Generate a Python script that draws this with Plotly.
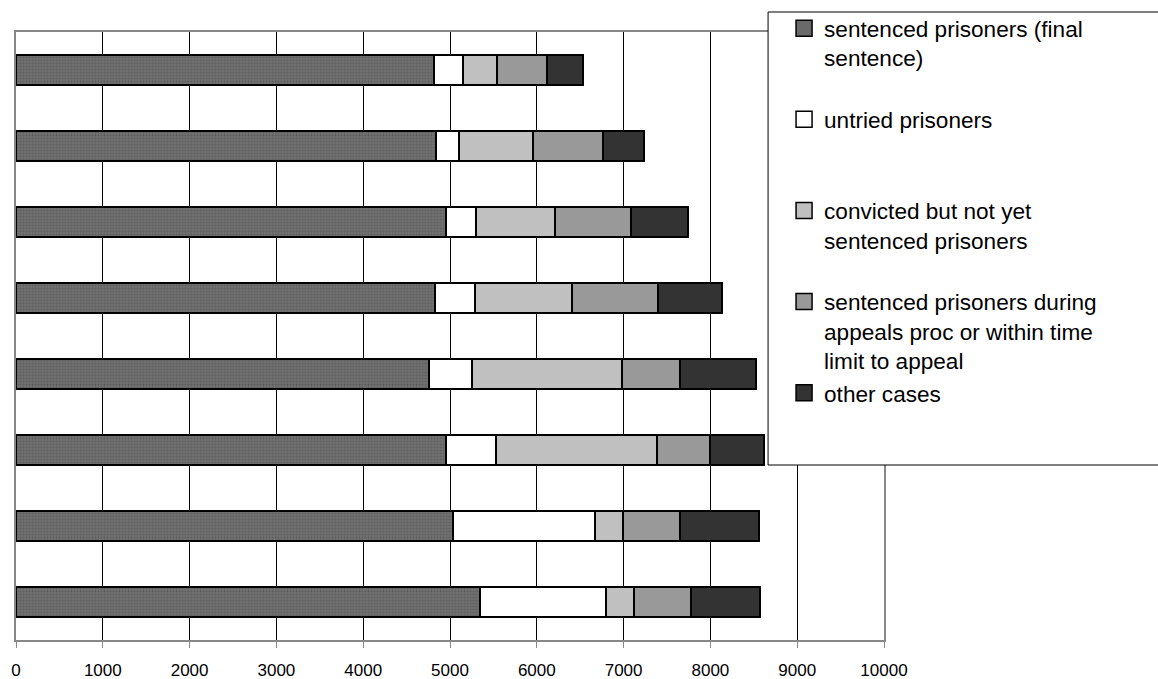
import plotly.graph_objects as go

# Data (rows listed top to bottom as they appear in the chart)
rows = ["r1", "r2", "r3", "r4", "r5", "r6", "r7", "r8"]
sentenced_final = [4810, 4840, 4955, 4830, 4760, 4955, 5035, 5340]
untried = [335, 260, 340, 455, 490, 575, 1640, 1460]
convicted_not_sentenced = [395, 860, 920, 1115, 1735, 1855, 320, 325]
during_appeals = [575, 805, 865, 1000, 670, 610, 650, 650]
other_cases = [420, 470, 660, 735, 865, 625, 915, 800]

x_ticks = [0, 1000, 2000, 3000, 4000, 5000, 6000, 7000, 8000, 9000, 10000]

NB = "\u00a0"
series = [
    ("sentenced prisoners (final<br>sentence)<br>" + NB, sentenced_final, "#6a6a6a", True),
    ("untried prisoners<br>" + NB + "<br>" + NB, untried, "#ffffff", False),
    ("convicted but not yet<br>sentenced prisoners<br>" + NB, convicted_not_sentenced, "#c0c0c0", False),
    ("sentenced prisoners during<br>appeals proc or within time<br>limit to appeal", during_appeals, "#999999", False),
    ("other cases<br>" + NB + "<br>" + NB, other_cases, "#333333", False),
]

W, H = 1158, 679
L, R, T, B = 15.5, 884.0, 32.0, 640.0
pw, ph = R - L, B - T

def px_x(p):  # screen px -> paper x
    return (p - L) / pw

def px_y(p):  # screen px -> paper y
    return (B - p) / ph

fig = go.Figure()
for name, vals, color, patterned in series:
    marker = dict(color=color, line=dict(color="#000000", width=2))
    if patterned:
        marker["pattern"] = dict(shape=".", size=3, solidity=0.35,
                                 fgcolor="#4c4c4c", bgcolor="#707070")
    fig.add_trace(go.Bar(
        y=rows, x=vals, name=name, orientation="h", marker=marker,
        hoverinfo="x", showlegend=False, legendgroup=name,
    ))

# legend keys (larger squares than the default bar key)
for name, vals, color, patterned in series:
    fig.add_trace(go.Scatter(
        x=[None], y=[None], mode="markers", name=name, legendgroup=name,
        marker=dict(symbol="square", size=16, color=color,
                    line=dict(color="#000000", width=1.5)),
        hoverinfo="skip",
    ))

fig.update_layout(
    width=W, height=H,
    barmode="stack", bargap=0.6,
    margin=dict(l=L, r=W - R, t=T, b=H - B, pad=0, autoexpand=False),
    paper_bgcolor="#ffffff", plot_bgcolor="#ffffff",
    font=dict(family="Liberation Sans, Arial, sans-serif", color="#000000", size=17),
    showlegend=True,
    legend=dict(
        x=px_x(784), y=px_y(473), xanchor="left", yanchor="bottom",
        bgcolor="rgba(0,0,0,0)", borderwidth=0, itemsizing="trace",
        font=dict(size=22.6, family="Liberation Sans, Arial, sans-serif", color="#000000"),
        valign="top", traceorder="normal", tracegroupgap=0,
        itemclick=False, itemdoubleclick=False,
    ),
    xaxis=dict(
        range=[0, 10000], tickvals=x_ticks, ticktext=[str(v) for v in x_ticks],
        showgrid=True, gridcolor="#000000", gridwidth=1,
        showline=True, linecolor="#888888", linewidth=2, mirror=True,
        ticks="outside", ticklen=6, tickcolor="#888888", tickwidth=1,
        ticklabelstandoff=8,
        tickfont=dict(size=17), zeroline=False, fixedrange=True,
    ),
    yaxis=dict(
        categoryorder="array", categoryarray=rows, autorange="reversed",
        showticklabels=False, showgrid=False, ticks="",
        showline=True, linecolor="#888888", linewidth=2, mirror=True,
        zeroline=False, fixedrange=True,
    ),
    shapes=[dict(
        type="rect", xref="paper", yref="paper",
        x0=px_x(768), x1=px_x(1200), y0=px_y(465), y1=px_y(12),
        line=dict(color="#000000", width=1), fillcolor="#ffffff", layer="above",
    )],
)

fig.write_html(
    "out.html",
    config={"displayModeBar": False},
    post_script="document.body.style.margin='0';document.body.style.overflow='hidden';",
)
